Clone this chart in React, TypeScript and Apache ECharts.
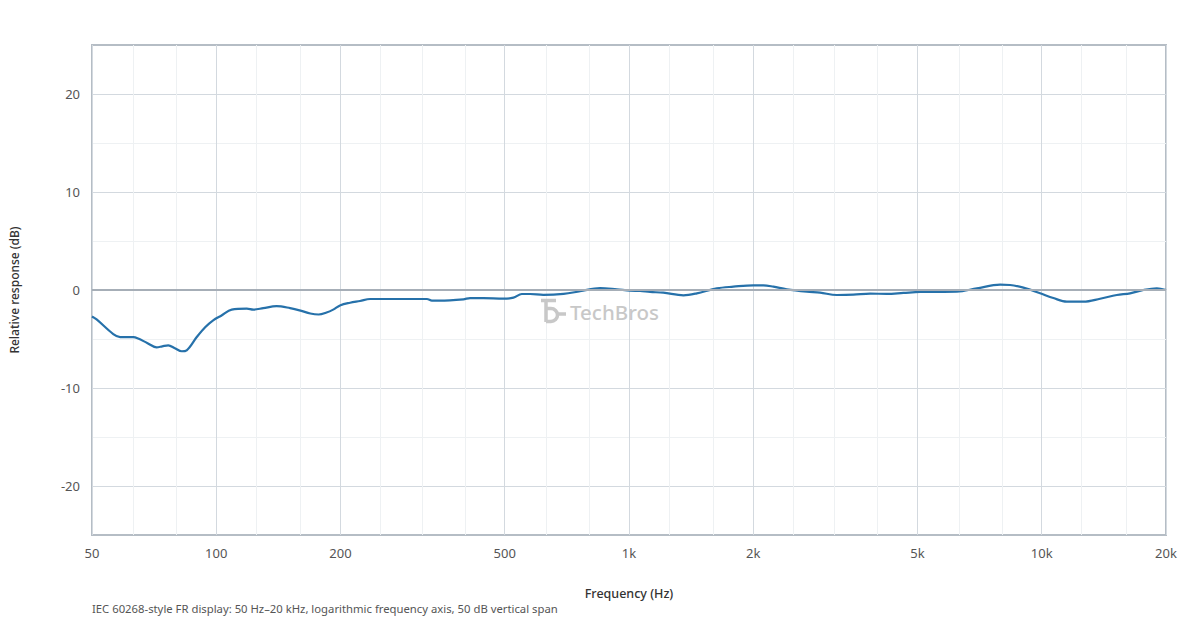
import React, { useEffect, useRef } from 'react';
import * as echarts from 'echarts';

const freqs = [
    50, 51.3, 56.3, 58.5, 63, 64.7, 68, 71.7, 74, 76.5, 79.4, 82.5, 84.8, 89.7, 94, 98.3,
    103, 109, 118.6, 123, 130, 140, 151, 160, 169, 177, 185, 192, 200, 211, 223, 236,
    274, 324, 333, 348, 397, 412, 444, 496, 525, 550, 576, 620, 694, 761, 851, 934,
    1006, 1064, 1125, 1211, 1355, 1460, 1632, 1790, 2002, 2117, 2238, 2412, 2697, 2904,
    3187, 3497, 3839, 4213, 4622, 5073, 6226, 6963, 7927, 8381, 9028, 9910, 10670, 11500,
    12620, 13850, 15200, 16370, 17640, 19000, 20000,
];
const response = [
    -2.7, -3.0, -4.5, -4.8, -4.8, -4.95, -5.4, -5.85, -5.75, -5.65, -5.95, -6.25, -6.15, -4.8, -3.8, -3.1,
    -2.6, -2.0, -1.9, -2.0, -1.85, -1.65, -1.85, -2.1, -2.4, -2.5, -2.3, -2.0, -1.55, -1.3, -1.12, -0.92,
    -0.92, -0.92, -1.08, -1.08, -0.95, -0.82, -0.82, -0.89, -0.78, -0.41, -0.41, -0.5, -0.4, -0.13, 0.2, 0.07,
    -0.07, -0.1, -0.2, -0.27, -0.54, -0.34, 0.17, 0.34, 0.48, 0.48, 0.34, 0.07, -0.17, -0.27,
    -0.51, -0.48, -0.37, -0.4, -0.3, -0.2, -0.17, 0.17, 0.54, 0.51, 0.24, -0.34, -0.82, -1.19,
    -1.19, -0.89, -0.51, -0.34, 0, 0.17, 0,
];

// labelled decade ticks and the 1/3-octave minor grid
const majorFreqs = [50, 100, 200, 500, 1000, 2000, 5000, 10000, 20000];
const minorFreqs = [63, 80, 125, 160, 250, 315, 400, 630, 800, 1250, 1600, 2500, 3150, 4000, 6300, 8000, 12500, 16000];
const majorDb = [-20, -10, 0, 10, 20];
const minorDb = [-15, -5, 5, 15];

const FMIN = 50;
const FMAX = 20000;
const DB_MIN = -25;
const DB_MAX = 25;

const FONT = '"Noto Sans", "Open Sans", sans-serif';

const logoPath = 'M0 1.5 H15 M5 0 V23 M5 9.5 H10 A6.5 6.5 0 0 1 10 22.5 H5 M17.5 15 H25';

const fmtFreq = (v: number) => {
    const f = Math.round(Math.pow(10, v));
    return f >= 1000 ? f / 1000 + 'k' : String(f);
};

const App: React.FC = () => {
    const chartRef = useRef<HTMLDivElement>(null);

    useEffect(() => {
        if (!chartRef.current) return;

        echarts.graphic.registerShape('tbLogo', echarts.graphic.extendPath(logoPath, {}));
        const chart = echarts.init(chartRef.current, null, { renderer: 'svg' });

        const data = freqs.map((f, i) => [Math.log10(f), response[i]]);
        const xMin = Math.log10(FMIN);
        const xMax = Math.log10(FMAX);

        const option = {
            animation: false,
            textStyle: { fontFamily: FONT },
            grid: {
                left: 92,
                right: 34,
                top: 45,
                bottom: 85,
                show: true,
                borderColor: '#b5bdc5',
                borderWidth: 2,
                backgroundColor: '#fff',
            },
            xAxis: [
                {
                    type: 'value',
                    min: xMin,
                    max: xMax,
                    name: 'Frequency (Hz)',
                    nameLocation: 'middle',
                    nameGap: 52,
                    nameTextStyle: { fontSize: 12.5, fontWeight: 500, color: '#333', fontFamily: FONT },
                    axisLine: { show: false },
                    axisTick: { show: false, customValues: majorFreqs.map(Math.log10) },
                    axisLabel: {
                        customValues: majorFreqs.map(Math.log10),
                        formatter: fmtFreq,
                        margin: 11,
                        fontSize: 13,
                        color: '#555',
                        fontFamily: FONT,
                    },
                    splitLine: { show: true, lineStyle: { color: '#d3d9df', width: 1 } },
                },
                {
                    type: 'value',
                    min: xMin,
                    max: xMax,
                    position: 'top',
                    axisLine: { show: false },
                    axisTick: { show: false, customValues: minorFreqs.map(Math.log10) },
                    axisLabel: { show: false },
                    splitLine: { show: true, lineStyle: { color: '#eef1f3', width: 1 } },
                },
            ],
            yAxis: [
                {
                    type: 'value',
                    min: DB_MIN,
                    max: DB_MAX,
                    name: 'Relative response (dB)',
                    nameLocation: 'middle',
                    nameGap: 72,
                    nameTextStyle: { fontSize: 12, fontWeight: 500, color: '#333', fontFamily: FONT },
                    axisLine: { show: false },
                    axisTick: { show: false, customValues: majorDb },
                    axisLabel: { customValues: majorDb, margin: 12, fontSize: 13, color: '#555', fontFamily: FONT },
                    splitLine: { show: true, lineStyle: { color: '#d3d9df', width: 1 } },
                },
                {
                    type: 'value',
                    min: DB_MIN,
                    max: DB_MAX,
                    position: 'right',
                    axisLine: { show: false },
                    axisTick: { show: false, customValues: minorDb },
                    axisLabel: { show: false },
                    splitLine: { show: true, lineStyle: { color: '#eef1f3', width: 1 } },
                },
            ],
            graphic: [
                {
                    type: 'tbLogo',
                    x: 541,
                    y: 299,
                    silent: true,
                    z: 1,
                    style: { fill: 'none', stroke: '#c8c8c8', lineWidth: 3.5 },
                },
                {
                    type: 'text',
                    x: 570,
                    y: 312,
                    silent: true,
                    z: 1,
                    style: {
                        text: 'TechBros',
                        fill: '#c8c8c8',
                        font: `500 20.5px ${FONT}`,
                        verticalAlign: 'middle',
                    },
                },
                {
                    type: 'text',
                    left: 92,
                    top: 603,
                    style: {
                        text: 'IEC 60268-style FR display: 50 Hz\u201320 kHz, logarithmic frequency axis, 50 dB vertical span',
                        fill: '#555',
                        font: `11.3px ${FONT}`,
                    },
                },
            ],
            series: [
                {
                    type: 'line',
                    data,
                    smooth: 0.35,
                    showSymbol: false,
                    z: 3,
                    lineStyle: { color: '#2671aa', width: 2.2 },
                    markLine: {
                        silent: true,
                        symbol: 'none',
                        label: { show: false },
                        lineStyle: { color: '#a6aeb7', width: 2, type: 'solid' },
                        data: [{ yAxis: 0 }],
                    },
                },
            ],
        };

        chart.setOption(option);

        const handleResize = () => chart.resize();
        window.addEventListener('resize', handleResize);

        return () => {
            window.removeEventListener('resize', handleResize);
            chart.dispose();
        };
    }, []);

    return (
        <div
            ref={chartRef}
            style={{ position: 'fixed', left: 0, top: 0, width: 1200, height: 620, background: '#fff' }}
        />
    );
};

export default App;
